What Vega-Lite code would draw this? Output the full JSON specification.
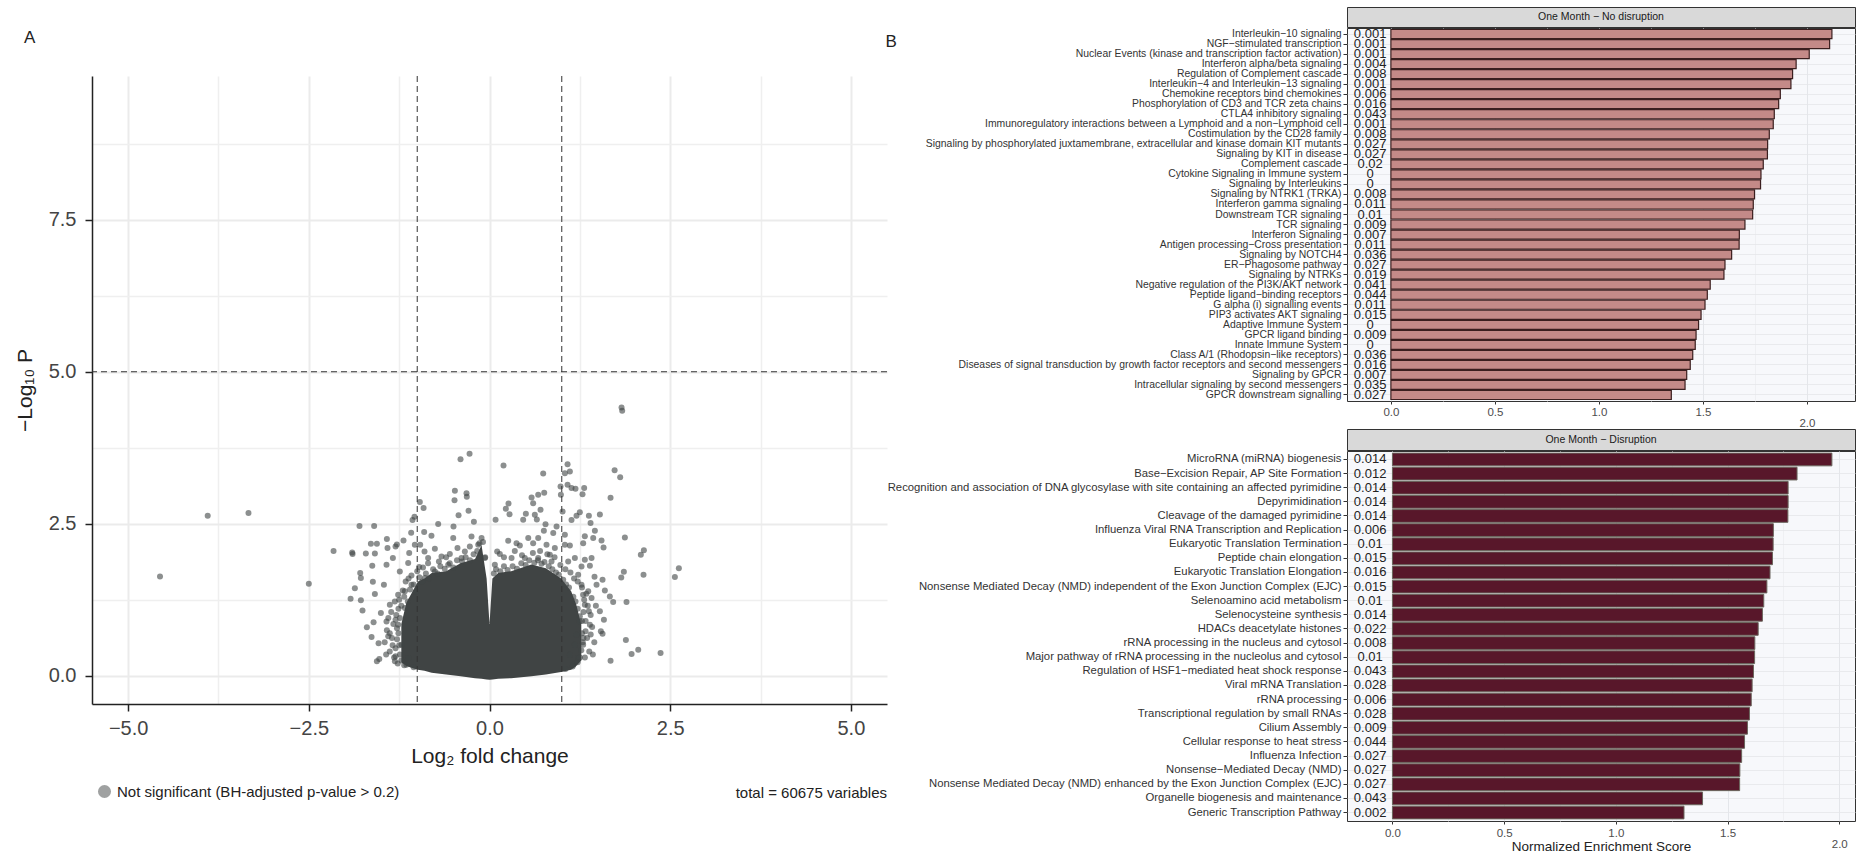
{
  "$schema": "https://vega.github.io/schema/vega-lite/v6.json",
  "background": "white",
  "padding": {"left": 14, "top": 6, "right": 0, "bottom": 0},
  "config": {"font": "Liberation Sans", "concat": {"spacing": 0}},
  "datasets": {
    "cloud": [
      {"lfc": -1.22, "top": 0.85, "bottom": 0.22},
      {"lfc": -1.15, "top": 1.2, "bottom": 0.16},
      {"lfc": -1.05, "top": 1.42, "bottom": 0.12},
      {"lfc": -0.99, "top": 1.55, "bottom": 0.1},
      {"lfc": -0.9, "top": 1.6, "bottom": 0.08},
      {"lfc": -0.8, "top": 1.69, "bottom": 0.05},
      {"lfc": -0.6, "top": 1.72, "bottom": 0.02},
      {"lfc": -0.4, "top": 1.85, "bottom": -0.01},
      {"lfc": -0.2, "top": 1.92, "bottom": -0.04},
      {"lfc": -0.11, "top": 2.15, "bottom": -0.05},
      {"lfc": -0.04, "top": 1.6, "bottom": -0.06},
      {"lfc": 0.0, "top": 0.85, "bottom": -0.065},
      {"lfc": 0.04, "top": 1.6, "bottom": -0.06},
      {"lfc": 0.12, "top": 1.69, "bottom": -0.05},
      {"lfc": 0.3, "top": 1.72, "bottom": -0.04},
      {"lfc": 0.58, "top": 1.83, "bottom": -0.01},
      {"lfc": 0.78, "top": 1.77, "bottom": 0.02},
      {"lfc": 0.99, "top": 1.6, "bottom": 0.06},
      {"lfc": 1.13, "top": 1.39, "bottom": 0.1},
      {"lfc": 1.2, "top": 1.17, "bottom": 0.16},
      {"lfc": 1.27, "top": 0.84, "bottom": 0.25}
    ],
    "pts": [
      {"lfc": -4.559, "p": 1.632}, {"lfc": -3.899, "p": 2.632}, {"lfc": -3.335, "p": 2.676}, {"lfc": -2.5, "p": 1.513},
      {"lfc": -2.158, "p": 2.05}, {"lfc": -1.9, "p": 2.028}, {"lfc": -1.895, "p": 2.001}, {"lfc": -1.799, "p": 2.461},
      {"lfc": -1.596, "p": 2.461}, {"lfc": -1.711, "p": 2.012}, {"lfc": -1.641, "p": 2.171}, {"lfc": -1.558, "p": 2.171},
      {"lfc": -1.586, "p": 2.012}, {"lfc": -1.42, "p": 2.248}, {"lfc": -1.282, "p": 2.16}, {"lfc": -1.19, "p": 2.226},
      {"lfc": -1.084, "p": 2.352}, {"lfc": -1.038, "p": 2.615}, {"lfc": -1.065, "p": 2.56}, {"lfc": -1.033, "p": 2.155},
      {"lfc": -0.904, "p": 2.363}, {"lfc": -0.803, "p": 2.302}, {"lfc": -0.71, "p": 2.494}, {"lfc": -0.498, "p": 2.456},
      {"lfc": -0.756, "p": 2.088}, {"lfc": -0.899, "p": 2.045}, {"lfc": -0.959, "p": 2.155}, {"lfc": -1.111, "p": 2.018},
      {"lfc": -1.3, "p": 2.127}, {"lfc": -1.411, "p": 2.1}, {"lfc": -1.622, "p": 1.809}, {"lfc": -1.337, "p": 1.935},
      {"lfc": -1.425, "p": 1.826}, {"lfc": -1.789, "p": 1.689}, {"lfc": -1.78, "p": 1.607}, {"lfc": -1.614, "p": 1.546},
      {"lfc": -1.863, "p": 1.437}, {"lfc": -1.461, "p": 1.497}, {"lfc": -1.922, "p": 1.267}, {"lfc": -1.78, "p": 1.24},
      {"lfc": -1.586, "p": 1.344}, {"lfc": -1.757, "p": 1.075}, {"lfc": -1.503, "p": 1.031}, {"lfc": -1.604, "p": 0.878},
      {"lfc": -1.697, "p": 0.796}, {"lfc": -1.632, "p": 0.637}, {"lfc": -1.535, "p": 0.533}, {"lfc": -1.558, "p": 0.237},
      {"lfc": -1.525, "p": 0.275}, {"lfc": -1.309, "p": 0.237}, {"lfc": -1.18, "p": 0.171}, {"lfc": -1.3, "p": 0.319},
      {"lfc": -1.401, "p": 0.648}, {"lfc": -1.425, "p": 0.894}, {"lfc": -1.379, "p": 1.168}, {"lfc": -1.264, "p": 1.333},
      {"lfc": -1.241, "p": 1.716}, {"lfc": -1.125, "p": 1.853}, {"lfc": -0.973, "p": 1.787}, {"lfc": -0.849, "p": 1.935},
      {"lfc": -0.664, "p": 1.962}, {"lfc": -0.549, "p": 2.001}, {"lfc": -0.443, "p": 2.1}, {"lfc": -0.341, "p": 2.045},
      {"lfc": -0.249, "p": 2.291}, {"lfc": -0.272, "p": 2.127}, {"lfc": -0.502, "p": 2.264},
      {"lfc": 1.827, "p": 4.412}, {"lfc": 1.836, "p": 4.357}, {"lfc": -0.276, "p": 3.65}, {"lfc": -0.401, "p": 3.562},
      {"lfc": 0.194, "p": 3.458}, {"lfc": 0.743, "p": 3.326}, {"lfc": 1.08, "p": 3.479}, {"lfc": 1.112, "p": 3.359},
      {"lfc": 1.043, "p": 3.332}, {"lfc": 1.731, "p": 3.381}, {"lfc": 1.808, "p": 3.266}, {"lfc": 1.675, "p": 2.927},
      {"lfc": -0.479, "p": 3.042}, {"lfc": -0.318, "p": 3.003}, {"lfc": -0.484, "p": 2.888}, {"lfc": -0.314, "p": 2.943},
      {"lfc": -0.964, "p": 2.856}, {"lfc": -0.912, "p": 2.757}, {"lfc": -0.29, "p": 2.713}, {"lfc": -0.428, "p": 2.641},
      {"lfc": -0.216, "p": 2.531}, {"lfc": 0.084, "p": 2.564}, {"lfc": 0.263, "p": 2.833}, {"lfc": 0.226, "p": 2.745},
      {"lfc": 0.277, "p": 2.658}, {"lfc": 0.466, "p": 2.564}, {"lfc": 0.503, "p": 2.663}, {"lfc": 0.582, "p": 2.932},
      {"lfc": 0.674, "p": 2.976}, {"lfc": 0.757, "p": 3.009}, {"lfc": 0.604, "p": 2.839}, {"lfc": 0.706, "p": 2.729},
      {"lfc": 0.627, "p": 2.647}, {"lfc": 0.655, "p": 2.57}, {"lfc": 0.775, "p": 2.493}, {"lfc": 0.752, "p": 2.384},
      {"lfc": 0.928, "p": 2.456}, {"lfc": 0.882, "p": 2.346}, {"lfc": 0.983, "p": 3.114}, {"lfc": 0.988, "p": 2.977},
      {"lfc": 1.08, "p": 3.141}, {"lfc": 1.135, "p": 3.086}, {"lfc": 1.19, "p": 3.075}, {"lfc": 1.31, "p": 3.086},
      {"lfc": 1.287, "p": 2.987}, {"lfc": 1.011, "p": 2.702}, {"lfc": 1.135, "p": 2.56}, {"lfc": 1.204, "p": 2.631},
      {"lfc": 1.25, "p": 2.691}, {"lfc": 1.375, "p": 2.631}, {"lfc": 1.527, "p": 2.653}, {"lfc": 1.398, "p": 2.511},
      {"lfc": 1.458, "p": 2.384}, {"lfc": 1.319, "p": 2.296}, {"lfc": 1.296, "p": 2.181}, {"lfc": 1.435, "p": 2.264},
      {"lfc": 1.55, "p": 2.226}, {"lfc": 1.578, "p": 2.111}, {"lfc": 1.873, "p": 2.275}, {"lfc": 2.136, "p": 2.066},
      {"lfc": 2.094, "p": 1.99}, {"lfc": 2.131, "p": 1.661}, {"lfc": 2.62, "p": 1.77}, {"lfc": 2.565, "p": 1.623},
      {"lfc": 1.859, "p": 1.71}, {"lfc": 1.823, "p": 1.617}, {"lfc": 1.896, "p": 1.212}, {"lfc": 1.887, "p": 0.587},
      {"lfc": 2.058, "p": 0.429}, {"lfc": 1.966, "p": 0.358}, {"lfc": 2.367, "p": 0.374}, {"lfc": 1.675, "p": 0.248},
      {"lfc": 1.564, "p": 1.58}, {"lfc": 1.596, "p": 1.404}, {"lfc": 1.711, "p": 1.212}, {"lfc": 1.665, "p": 1.305},
      {"lfc": 1.583, "p": 0.921}, {"lfc": 1.564, "p": 0.691}, {"lfc": 1.541, "p": 0.73}, {"lfc": 1.527, "p": 1.059},
      {"lfc": 1.472, "p": 1.152}, {"lfc": 1.453, "p": 1.628}, {"lfc": 1.389, "p": 1.809}, {"lfc": 1.412, "p": 1.935},
      {"lfc": 1.319, "p": 1.908}, {"lfc": 1.273, "p": 1.798}, {"lfc": 1.481, "p": 1.497}, {"lfc": 1.412, "p": 1.278},
      {"lfc": 1.375, "p": 1.059}, {"lfc": 1.389, "p": 0.84}, {"lfc": 1.329, "p": 0.73}, {"lfc": 1.296, "p": 0.511},
      {"lfc": 1.227, "p": 0.292}, {"lfc": 1.158, "p": 0.182},
      {"lfc": 0.106, "p": 2.045}, {"lfc": 0.143, "p": 2.001}, {"lfc": 0.259, "p": 2.22}, {"lfc": 0.374, "p": 2.181},
      {"lfc": 0.42, "p": 2.143}, {"lfc": 0.536, "p": 2.264}, {"lfc": 0.604, "p": 2.181}, {"lfc": 0.674, "p": 2.264},
      {"lfc": 0.789, "p": 2.154}, {"lfc": 0.835, "p": 1.99}, {"lfc": 0.904, "p": 2.099}, {"lfc": 1.043, "p": 2.318},
      {"lfc": 1.043, "p": 2.154}, {"lfc": 1.112, "p": 2.143}, {"lfc": 1.089, "p": 1.88}, {"lfc": 1.181, "p": 1.935},
      {"lfc": 1.227, "p": 1.661}, {"lfc": 1.273, "p": 1.497}, {"lfc": 1.296, "p": 1.333}, {"lfc": 1.319, "p": 1.168},
      {"lfc": 1.366, "p": 1.388}, {"lfc": 1.25, "p": 0.894}, {"lfc": 1.204, "p": 0.675}, {"lfc": 1.181, "p": 0.511},
      {"lfc": 1.112, "p": 0.347}, {"lfc": 0.074, "p": 1.825}, {"lfc": 0.305, "p": 1.935}, {"lfc": 0.489, "p": 1.935},
      {"lfc": 0.674, "p": 1.935}, {"lfc": 0.858, "p": 1.88}, {"lfc": -0.11, "p": 2.264}, {"lfc": -0.156, "p": 2.154},
      {"lfc": -0.064, "p": 1.935}, {"lfc": -0.387, "p": 1.935}, {"lfc": -0.571, "p": 1.825}, {"lfc": -0.756, "p": 1.716},
      {"lfc": -0.895, "p": 1.607}, {"lfc": -1.079, "p": 1.497}, {"lfc": -1.171, "p": 1.388}, {"lfc": -1.171, "p": 1.114},
      {"lfc": -1.264, "p": 0.84}, {"lfc": -1.218, "p": 0.511}, {"lfc": -1.125, "p": 0.292},
      {"lfc": -1.24, "p": 0.95}, {"lfc": -1.22, "p": 1.15}, {"lfc": -1.18, "p": 1.3}, {"lfc": -1.13, "p": 1.22},
      {"lfc": -1.1, "p": 1.42}, {"lfc": -1.05, "p": 1.5}, {"lfc": -1.02, "p": 1.38}, {"lfc": -0.97, "p": 1.62},
      {"lfc": -0.93, "p": 1.55}, {"lfc": -0.88, "p": 1.68}, {"lfc": -0.84, "p": 1.6}, {"lfc": -0.78, "p": 1.75},
      {"lfc": -0.72, "p": 1.68}, {"lfc": -0.68, "p": 1.8}, {"lfc": -0.62, "p": 1.76}, {"lfc": -0.55, "p": 1.85},
      {"lfc": -0.5, "p": 1.78}, {"lfc": -0.45, "p": 1.9}, {"lfc": -0.38, "p": 1.88}, {"lfc": -0.33, "p": 1.95},
      {"lfc": -0.27, "p": 1.9}, {"lfc": -0.22, "p": 2.0}, {"lfc": -0.17, "p": 2.05}, {"lfc": -0.14, "p": 2.18},
      {"lfc": -0.09, "p": 2.2}, {"lfc": -0.06, "p": 1.95}, {"lfc": 0.06, "p": 1.68}, {"lfc": 0.09, "p": 1.75},
      {"lfc": 0.15, "p": 1.72}, {"lfc": 0.2, "p": 1.8}, {"lfc": 0.25, "p": 1.74}, {"lfc": 0.32, "p": 1.8},
      {"lfc": 0.38, "p": 1.76}, {"lfc": 0.44, "p": 1.85}, {"lfc": 0.5, "p": 1.82}, {"lfc": 0.55, "p": 1.9},
      {"lfc": 0.62, "p": 1.86}, {"lfc": 0.67, "p": 1.9}, {"lfc": 0.72, "p": 1.84}, {"lfc": 0.76, "p": 1.87},
      {"lfc": 0.82, "p": 1.8}, {"lfc": 0.87, "p": 1.75}, {"lfc": 0.92, "p": 1.7}, {"lfc": 0.96, "p": 1.66},
      {"lfc": 1.02, "p": 1.58}, {"lfc": 1.06, "p": 1.5}, {"lfc": 1.1, "p": 1.45}, {"lfc": 1.16, "p": 1.3},
      {"lfc": 1.19, "p": 1.22}, {"lfc": 1.22, "p": 1.1}, {"lfc": 1.25, "p": 0.98}, {"lfc": 1.28, "p": 0.9},
      {"lfc": -1.26, "p": 0.7}, {"lfc": -1.25, "p": 0.5}, {"lfc": -1.24, "p": 0.35}, {"lfc": -1.22, "p": 0.25},
      {"lfc": -1.28, "p": 0.6}, {"lfc": -1.3, "p": 0.45}, {"lfc": 1.28, "p": 0.7}, {"lfc": 1.29, "p": 0.55},
      {"lfc": 1.27, "p": 0.42}, {"lfc": 1.25, "p": 0.3}, {"lfc": 1.3, "p": 0.62}, {"lfc": 1.22, "p": 0.22},
      {"lfc": -1.15, "p": 0.18}, {"lfc": -1.05, "p": 0.14}, {"lfc": 1.15, "p": 0.15}, {"lfc": 1.05, "p": 0.11},
      {"lfc": -1.45, "p": 0.55}, {"lfc": -1.42, "p": 0.75}, {"lfc": -1.4, "p": 0.95}, {"lfc": -1.38, "p": 0.4},
      {"lfc": -1.36, "p": 1.05}, {"lfc": -1.35, "p": 0.62}, {"lfc": -1.33, "p": 0.85}, {"lfc": -1.32, "p": 0.3},
      {"lfc": -1.31, "p": 1.22}, {"lfc": -1.29, "p": 1.0}, {"lfc": -1.28, "p": 0.78}, {"lfc": -1.27, "p": 0.2},
      {"lfc": -1.26, "p": 1.1}, {"lfc": -1.34, "p": 0.5}, {"lfc": -1.43, "p": 0.35}, {"lfc": -1.38, "p": 0.7},
      {"lfc": -1.3, "p": 0.92}, {"lfc": -1.25, "p": 1.25}, {"lfc": -1.2, "p": 1.4}, {"lfc": -1.16, "p": 1.55},
      {"lfc": -1.12, "p": 1.6}, {"lfc": -1.08, "p": 1.65}, {"lfc": -1.0, "p": 1.72}, {"lfc": -0.92, "p": 1.78},
      {"lfc": -0.85, "p": 1.85}, {"lfc": -0.7, "p": 1.88}, {"lfc": -0.6, "p": 1.95},
      {"lfc": 1.45, "p": 0.55}, {"lfc": 1.42, "p": 0.8}, {"lfc": 1.4, "p": 1.0}, {"lfc": 1.38, "p": 0.4},
      {"lfc": 1.36, "p": 1.15}, {"lfc": 1.35, "p": 0.62}, {"lfc": 1.33, "p": 0.9}, {"lfc": 1.32, "p": 0.3},
      {"lfc": 1.31, "p": 1.25}, {"lfc": 1.3, "p": 1.05}, {"lfc": 1.43, "p": 0.35}, {"lfc": 1.4, "p": 0.68},
      {"lfc": 1.34, "p": 1.35}, {"lfc": 1.28, "p": 1.45}, {"lfc": 1.22, "p": 1.55}, {"lfc": 1.17, "p": 1.6},
      {"lfc": 1.12, "p": 1.7}, {"lfc": 1.05, "p": 1.75}, {"lfc": 0.98, "p": 1.82}, {"lfc": 0.9, "p": 1.95},
      {"lfc": 0.8, "p": 2.0}, {"lfc": 0.7, "p": 2.05}, {"lfc": 0.6, "p": 2.02}, {"lfc": 0.45, "p": 1.98},
      {"lfc": 0.35, "p": 2.05}, {"lfc": 0.2, "p": 1.95}
    ],
    "top": [
      {"pathway": "Interleukin−10 signaling", "nes": 2.12, "padj": "0.001"},
      {"pathway": "NGF−stimulated transcription", "nes": 2.109, "padj": "0.001"},
      {"pathway": "Nuclear Events (kinase and transcription factor activation)", "nes": 2.011, "padj": "0.001"},
      {"pathway": "Interferon alpha/beta signaling", "nes": 1.948, "padj": "0.004"},
      {"pathway": "Regulation of Complement cascade", "nes": 1.931, "padj": "0.008"},
      {"pathway": "Interleukin−4 and Interleukin−13 signaling", "nes": 1.923, "padj": "0.001"},
      {"pathway": "Chemokine receptors bind chemokines", "nes": 1.872, "padj": "0.006"},
      {"pathway": "Phosphorylation of CD3 and TCR zeta chains", "nes": 1.864, "padj": "0.016"},
      {"pathway": "CTLA4 inhibitory signaling", "nes": 1.843, "padj": "0.043"},
      {"pathway": "Immunoregulatory interactions between a Lymphoid and a non−Lymphoid cell", "nes": 1.838, "padj": "0.001"},
      {"pathway": "Costimulation by the CD28 family", "nes": 1.819, "padj": "0.008"},
      {"pathway": "Signaling by phosphorylated juxtamembrane, extracellular and kinase domain KIT mutants", "nes": 1.811, "padj": "0.027"},
      {"pathway": "Signaling by KIT in disease", "nes": 1.81, "padj": "0.027"},
      {"pathway": "Complement cascade", "nes": 1.79, "padj": "0.02"},
      {"pathway": "Cytokine Signaling in Immune system", "nes": 1.779, "padj": "0"},
      {"pathway": "Signaling by Interleukins", "nes": 1.777, "padj": "0"},
      {"pathway": "Signaling by NTRK1 (TRKA)", "nes": 1.748, "padj": "0.008"},
      {"pathway": "Interferon gamma signaling", "nes": 1.742, "padj": "0.011"},
      {"pathway": "Downstream TCR signaling", "nes": 1.739, "padj": "0.01"},
      {"pathway": "TCR signaling", "nes": 1.702, "padj": "0.009"},
      {"pathway": "Interferon Signaling", "nes": 1.675, "padj": "0.007"},
      {"pathway": "Antigen processing−Cross presentation", "nes": 1.674, "padj": "0.011"},
      {"pathway": "Signaling by NOTCH4", "nes": 1.638, "padj": "0.036"},
      {"pathway": "ER−Phagosome pathway", "nes": 1.606, "padj": "0.027"},
      {"pathway": "Signaling by NTRKs", "nes": 1.601, "padj": "0.019"},
      {"pathway": "Negative regulation of the PI3K/AKT network", "nes": 1.535, "padj": "0.041"},
      {"pathway": "Peptide ligand−binding receptors", "nes": 1.521, "padj": "0.044"},
      {"pathway": "G alpha (i) signalling events", "nes": 1.51, "padj": "0.011"},
      {"pathway": "PIP3 activates AKT signaling", "nes": 1.491, "padj": "0.015"},
      {"pathway": "Adaptive Immune System", "nes": 1.479, "padj": "0"},
      {"pathway": "GPCR ligand binding", "nes": 1.467, "padj": "0.009"},
      {"pathway": "Innate Immune System", "nes": 1.463, "padj": "0"},
      {"pathway": "Class A/1 (Rhodopsin−like receptors)", "nes": 1.451, "padj": "0.036"},
      {"pathway": "Diseases of signal transduction by growth factor receptors and second messengers", "nes": 1.439, "padj": "0.016"},
      {"pathway": "Signaling by GPCR", "nes": 1.422, "padj": "0.007"},
      {"pathway": "Intracellular signaling by second messengers", "nes": 1.414, "padj": "0.035"},
      {"pathway": "GPCR downstream signalling", "nes": 1.348, "padj": "0.027"}
    ],
    "bottom": [
      {"pathway": "MicroRNA (miRNA) biogenesis", "nes": 1.967, "padj": "0.014"},
      {"pathway": "Base−Excision Repair, AP Site Formation", "nes": 1.811, "padj": "0.012"},
      {"pathway": "Recognition and association of DNA glycosylase with site containing an affected pyrimidine", "nes": 1.771, "padj": "0.014"},
      {"pathway": "Depyrimidination", "nes": 1.771, "padj": "0.014"},
      {"pathway": "Cleavage of the damaged pyrimidine ", "nes": 1.77, "padj": "0.014"},
      {"pathway": "Influenza Viral RNA Transcription and Replication", "nes": 1.705, "padj": "0.006"},
      {"pathway": "Eukaryotic Translation Termination", "nes": 1.704, "padj": "0.01"},
      {"pathway": "Peptide chain elongation", "nes": 1.701, "padj": "0.015"},
      {"pathway": "Eukaryotic Translation Elongation", "nes": 1.69, "padj": "0.016"},
      {"pathway": "Nonsense Mediated Decay (NMD) independent of the Exon Junction Complex (EJC)", "nes": 1.676, "padj": "0.015"},
      {"pathway": "Selenoamino acid metabolism", "nes": 1.662, "padj": "0.01"},
      {"pathway": "Selenocysteine synthesis", "nes": 1.656, "padj": "0.014"},
      {"pathway": "HDACs deacetylate histones", "nes": 1.637, "padj": "0.022"},
      {"pathway": "rRNA processing in the nucleus and cytosol", "nes": 1.622, "padj": "0.008"},
      {"pathway": "Major pathway of rRNA processing in the nucleolus and cytosol", "nes": 1.621, "padj": "0.01"},
      {"pathway": "Regulation of HSF1−mediated heat shock response", "nes": 1.616, "padj": "0.043"},
      {"pathway": "Viral mRNA Translation", "nes": 1.61, "padj": "0.028"},
      {"pathway": "rRNA processing", "nes": 1.606, "padj": "0.006"},
      {"pathway": "Transcriptional regulation by small RNAs", "nes": 1.598, "padj": "0.028"},
      {"pathway": "Cilium Assembly", "nes": 1.589, "padj": "0.009"},
      {"pathway": "Cellular response to heat stress", "nes": 1.576, "padj": "0.044"},
      {"pathway": "Influenza Infection", "nes": 1.563, "padj": "0.027"},
      {"pathway": "Nonsense−Mediated Decay (NMD)", "nes": 1.555, "padj": "0.027"},
      {"pathway": "Nonsense Mediated Decay (NMD) enhanced by the Exon Junction Complex (EJC)", "nes": 1.554, "padj": "0.027"},
      {"pathway": "Organelle biogenesis and maintenance", "nes": 1.388, "padj": "0.043"},
      {"pathway": "Generic Transcription Pathway", "nes": 1.305, "padj": "0.002"}
    ]
  },
  "spacing": -4,
  "hconcat": [
    {
      "spacing": 0,
      "vconcat": [
        {
          "width": 795,
          "height": 68,
          "data": {"values": []},
          "mark": "point",
          "view": {"stroke": null},
          "title": {"text": "A", "orient": "top", "anchor": "start", "frame": "group", "offset": -40, "dx": -68, "fontSize": 17, "fontWeight": "normal", "color": "#222222"}
        },
        {
          "width": 795,
          "height": 628,
          "view": {"stroke": null},
          "title": {"text": "total = 60675 variables", "orient": "bottom", "anchor": "end", "frame": "group", "offset": 20, "fontSize": 15, "fontWeight": "normal", "color": "#222222"},
          "resolve": {"axis": {"x": "independent", "y": "independent"}},
          "layer": [
            {
              "data": {"name": "cloud"},
              "mark": {"type": "area", "color": "#404444", "opacity": 1},
              "encoding": {
                "x": {"field": "lfc", "type": "quantitative", "scale": {"domain": [-5.5, 5.5], "nice": false, "zero": false},
                  "axis": {"values": [-5, -2.5, 0, 2.5, 5], "format": ".1f", "title": "Log₂ fold change", "labelFlush": false,
                    "grid": true, "gridColor": "#ebebeb", "gridWidth": 2, "domainColor": "#222222", "domainWidth": 1.5,
                    "tickColor": "#222222", "tickWidth": 1.5, "tickSize": 7, "labelFontSize": 20, "labelColor": "#444444",
                    "labelPadding": 7.5, "titleFontSize": 21, "titleFontWeight": "normal", "titleColor": "#222222", "titlePadding": 6.5}},
                "y": {"field": "top", "type": "quantitative", "scale": {"domain": [-0.465, 9.865], "nice": false, "zero": false},
                  "axis": {"values": [0, 2.5, 5, 7.5], "format": ".1f", "title": "−Log₁₀ P", "labelFlush": false,
                    "grid": true, "gridColor": "#ebebeb", "gridWidth": 2, "domainColor": "#222222", "domainWidth": 1.5,
                    "tickColor": "#222222", "tickWidth": 1.5, "tickSize": 7, "labelFontSize": 20, "labelColor": "#444444",
                    "labelPadding": 9, "titleFontSize": 21, "titleFontWeight": "normal", "titleColor": "#222222", "titlePadding": 13}},
                "y2": {"field": "bottom"}
              }
            },
            {
              "data": {"name": "pts"},
              "mark": {"type": "circle", "size": 36, "opacity": 0.6},
              "encoding": {
                "x": {"field": "lfc", "type": "quantitative", "scale": {"domain": [-5.5, 5.5], "nice": false, "zero": false},
                  "axis": {"values": [-3.75, -1.25, 1.25, 3.75], "grid": true, "gridColor": "#efefef", "gridWidth": 1.5, "labels": false, "ticks": false, "domain": false, "title": null}},
                "y": {"field": "p", "type": "quantitative", "scale": {"domain": [-0.465, 9.865], "nice": false, "zero": false},
                  "axis": {"values": [1.25, 3.75, 6.25, 8.75], "grid": true, "gridColor": "#efefef", "gridWidth": 1.5, "labels": false, "ticks": false, "domain": false, "title": null}},
                "color": {"datum": "Not significant (BH-adjusted p-value > 0.2)", "type": "nominal", "scale": {"range": ["#404444"]},
                  "legend": {"orient": "none", "legendX": 5, "legendY": 777, "title": null, "symbolType": "circle", "symbolSize": 170, "symbolOpacity": 0.5, "symbolStrokeWidth": 0, "labelFontSize": 15, "labelColor": "#222222", "labelOffset": 5, "labelLimit": 0}}
              }
            },
            {
              "data": {"values": [{"lfc": -1}, {"lfc": 1}]},
              "mark": {"type": "rule", "color": "#333333", "strokeWidth": 1, "strokeDash": [6, 4]},
              "encoding": {
                "x": {"field": "lfc", "type": "quantitative", "scale": {"domain": [-5.5, 5.5], "nice": false, "zero": false}, "axis": null}
              }
            },
            {
              "data": {"values": [{"p": 5}]},
              "mark": {"type": "rule", "color": "#333333", "strokeWidth": 1, "strokeDash": [6, 4]},
              "encoding": {
                "y": {"field": "p", "type": "quantitative", "scale": {"domain": [-0.465, 9.865], "nice": false, "zero": false}, "axis": null}
              }
            }
          ]
        }
      ]
    },
    {
      "spacing": -8,
      "vconcat": [
        {
          "spacing": -2,
          "vconcat": [
            {
              "width": 508,
              "height": 20,
              "data": {"values": [{"label": "One Month − No disruption"}]},
              "view": {"fill": "#d9d9d9", "stroke": "#333333", "strokeWidth": 1},
              "mark": {"type": "text", "fontSize": 10.5, "color": "#1a1a1a"},
              "encoding": {"text": {"field": "label"}}
            },
            {
              "width": 508,
              "height": 373,
              "data": {"name": "top"},
              "view": {"fill": "#f7f8fb", "stroke": "#333333", "strokeWidth": 1},
              "resolve": {"axis": {"x": "independent", "y": "independent"}},
              "layer": [
                {
                  "mark": {"type": "bar", "fill": "#c48a88", "stroke": "#3b1f1f", "strokeWidth": 1.2},
                  "encoding": {
                    "y": {"field": "pathway", "type": "nominal", "sort": null, "scale": {"paddingInner": 0.1, "paddingOuter": 0.15},
                      "axis": {"title": "B", "titleAngle": 0, "titleX": -462, "titleY": 13, "titleAlign": "left", "titleBaseline": "middle",
                        "titleFontSize": 17, "titleFontWeight": "normal", "titleColor": "#222222",
                        "labelFontSize": 10.4, "labelColor": "#333333", "labelLimit": 0, "labelPadding": 2, "tickSize": 4, "tickColor": "#333333",
                        "domain": false, "grid": true, "gridColor": "#e4e6ea", "gridWidth": 0.8, "bandPosition": 0.5}},
                    "x": {"field": "nes", "type": "quantitative", "scale": {"domain": [-0.211, 2.231], "nice": false, "zero": false},
                      "axis": {"values": [0, 0.5, 1, 1.5, 2], "format": ".1f", "title": null, "labelFlush": false, "labelFontSize": 11.5, "labelColor": "#4d4d4d",
                        "labelPadding": {"condition": {"test": "datum.value === 2", "value": 13}, "value": 2},
                        "tickSize": 3, "tickColor": "#333333", "domain": false, "grid": true, "gridColor": "#e4e6ea", "gridWidth": 1}},
                    "x2": {"datum": 0}
                  }
                },
                {
                  "mark": {"type": "text", "fontSize": 13, "color": "#222222"},
                  "encoding": {
                    "y": {"field": "pathway", "type": "nominal", "sort": null, "axis": null},
                    "x": {"datum": -0.1, "type": "quantitative",
                      "axis": {"values": [0.25, 0.75, 1.25, 1.75], "grid": true, "gridColor": "#eceef1", "gridWidth": 0.8, "labels": false, "ticks": false, "domain": false, "title": null}},
                    "text": {"field": "padj"}
                  }
                }
              ]
            }
          ]
        },
        {
          "spacing": -3,
          "vconcat": [
            {
              "width": 508,
              "height": 21,
              "data": {"values": [{"label": "One Month − Disruption"}]},
              "view": {"fill": "#d9d9d9", "stroke": "#333333", "strokeWidth": 1},
              "mark": {"type": "text", "fontSize": 10.5, "color": "#1a1a1a"},
              "encoding": {"text": {"field": "label"}}
            },
            {
              "width": 508,
              "height": 370,
              "data": {"name": "bottom"},
              "view": {"fill": "#f7f8fb", "stroke": "#333333", "strokeWidth": 1},
              "resolve": {"axis": {"x": "independent", "y": "independent"}},
              "layer": [
                {
                  "mark": {"type": "bar", "fill": "#58172a", "stroke": "#6a655c", "strokeWidth": 1},
                  "encoding": {
                    "y": {"field": "pathway", "type": "nominal", "sort": null, "scale": {"paddingInner": 0.1, "paddingOuter": 0.15},
                      "axis": {"title": null, "labelFontSize": 11.3, "labelColor": "#333333", "labelLimit": 0, "labelPadding": 2, "tickSize": 4, "tickColor": "#333333",
                        "domain": false, "grid": true, "gridColor": "#e4e6ea", "gridWidth": 0.8, "bandPosition": 0.5}},
                    "x": {"field": "nes", "type": "quantitative", "scale": {"domain": [-0.2034, 2.0704], "nice": false, "zero": false},
                      "axis": {"values": [0, 0.5, 1, 1.5, 2], "format": ".1f", "title": "Normalized Enrichment Score", "labelFlush": false, "labelFontSize": 11.5, "labelColor": "#4d4d4d",
                        "labelPadding": {"condition": {"test": "datum.value === 2", "value": 14}, "value": 3},
                        "titleFontSize": 13.5, "titleFontWeight": "normal", "titleColor": "#222222", "titleY": 25, "titleBaseline": "middle",
                        "tickSize": 3, "tickColor": "#333333", "domain": false, "grid": true, "gridColor": "#e4e6ea", "gridWidth": 1}},
                    "x2": {"datum": 0}
                  }
                },
                {
                  "mark": {"type": "text", "fontSize": 13, "color": "#222222"},
                  "encoding": {
                    "y": {"field": "pathway", "type": "nominal", "sort": null, "axis": null},
                    "x": {"datum": -0.1, "type": "quantitative",
                      "axis": {"values": [0.25, 0.75, 1.25, 1.75], "grid": true, "gridColor": "#eceef1", "gridWidth": 0.8, "labels": false, "ticks": false, "domain": false, "title": null}},
                    "text": {"field": "padj"}
                  }
                }
              ]
            }
          ]
        }
      ]
    }
  ]
}
